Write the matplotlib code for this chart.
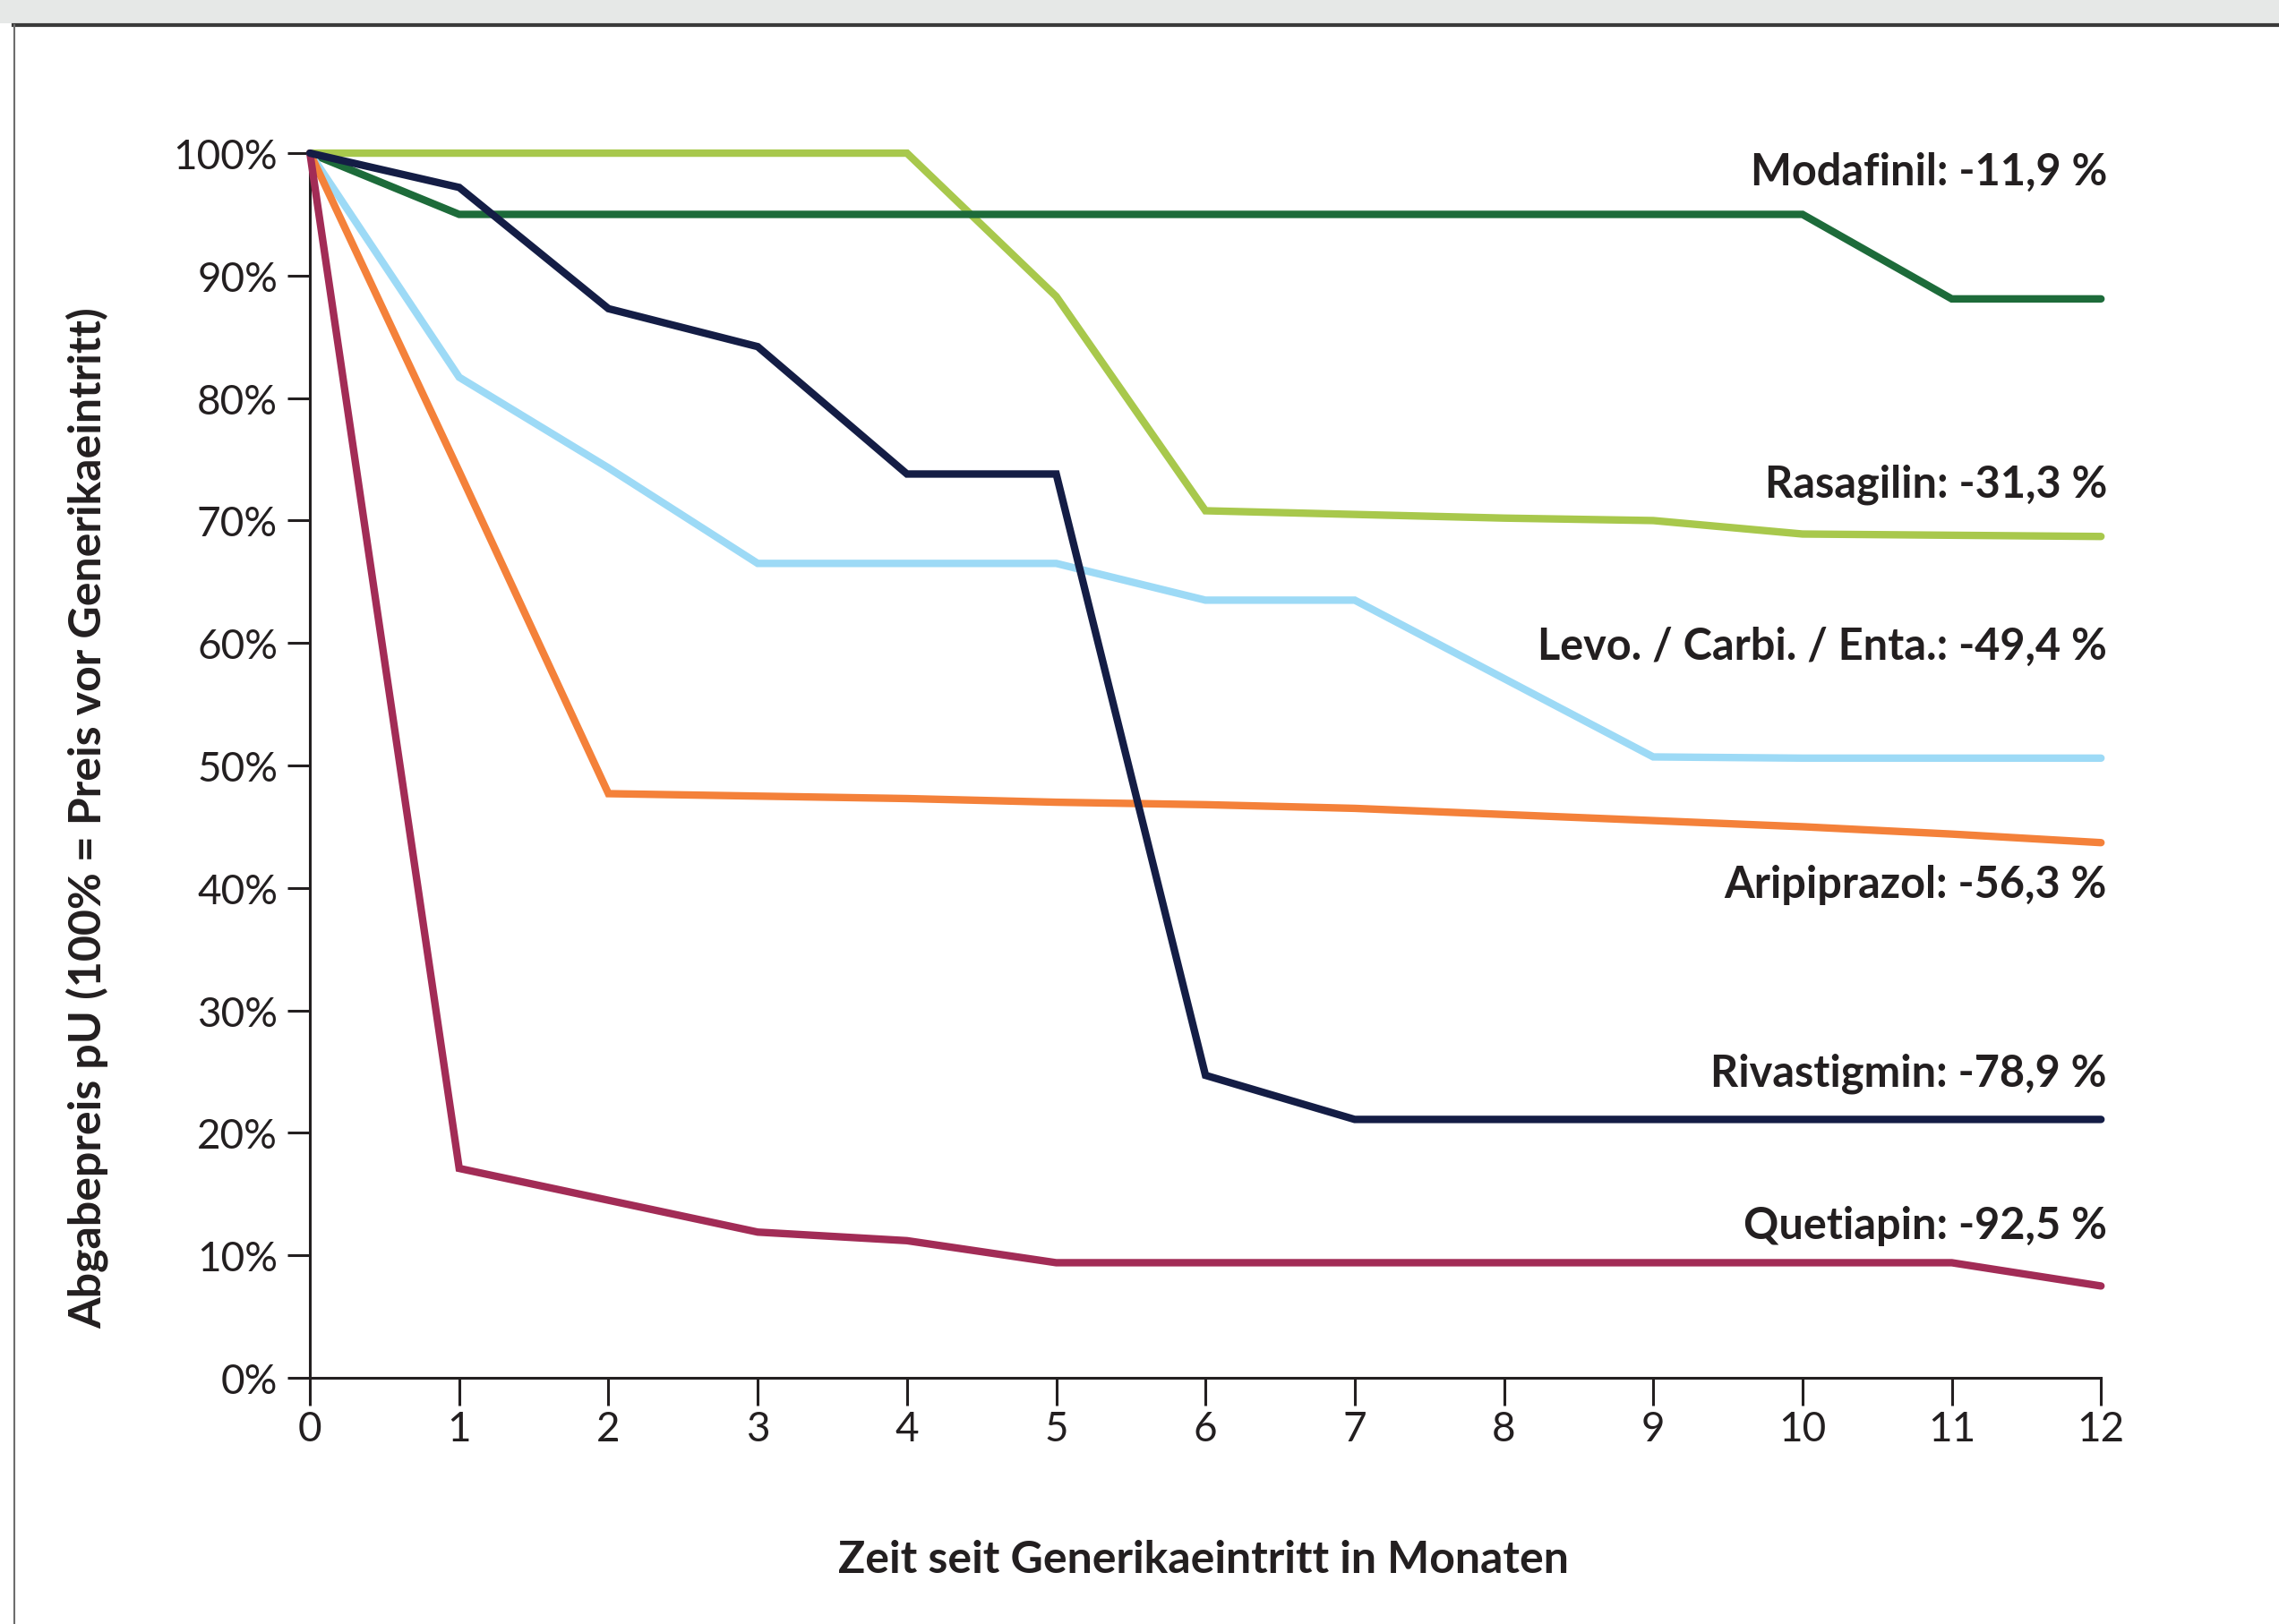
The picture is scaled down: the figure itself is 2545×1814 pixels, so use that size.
import matplotlib.pyplot as plt
from matplotlib.lines import Line2D
from matplotlib.patches import Rectangle

# Fonts
plt.rcParams['font.family'] = ['Lato', 'DejaVu Sans']

# Data: price (pU) relative to price before generic entry, per month
months = [0, 1, 2, 3, 4, 5, 6, 7, 8, 9, 10, 11, 12]

modafinil = [100, 95.0, 95.0, 95.0, 95.0, 95.0, 95.0, 95.0, 95.0, 95.0, 95.0, 88.1, 88.1]
rasagilin = [100, 100, 100, 100, 100, 88.3, 70.8, 70.5, 70.2, 70.0, 68.9, 68.8, 68.7]
levo = [100, 81.7, 74.3, 66.5, 66.5, 66.5, 63.5, 63.5, 57.1, 50.7, 50.6, 50.6, 50.6]
aripiprazol = [100, 74.0, 47.7, 47.5, 47.3, 47.0, 46.8, 46.5, 46.0, 45.5, 45.0, 44.4, 43.7]
rivastigmin = [100, 97.2, 87.3, 84.2, 73.8, 73.8, 24.7, 21.1, 21.1, 21.1, 21.1, 21.1, 21.1]
quetiapin = [100, 17.1, 14.5, 11.9, 11.2, 9.4, 9.4, 9.4, 9.4, 9.4, 9.4, 9.4, 7.5]

series = [modafinil, rasagilin, levo, aripiprazol, rivastigmin, quetiapin]
colors = ["#1d6b3a", "#a8c84c", "#9ddaf6", "#f4813a", "#141d45", "#a22c56"]

labels = ["Modafinil: -11,9 %", "Rasagilin: -31,3 %", "Levo. / Carbi. / Enta.: -49,4 %",
          "Aripiprazol: -56,3 %", "Rivastigmin: -78,9 %", "Quetiapin: -92,5 %"]
label_y = [98.5, 73.0, 59.8, 40.3, 24.9, 12.5]

yticks = [0, 10, 20, 30, 40, 50, 60, 70, 80, 90, 100]
ytick_labels = ["%d%%" % v for v in yticks]

TEXT = "#231f20"

fig = plt.figure(figsize=(25.45, 18.15), dpi=100)
ax = fig.add_axes([0.136, 0.1515, 0.7859, 0.7537])

# Frame of the figure: grey band at top, dark rule, thin left border
fig.patches.append(Rectangle((0, 1 - 27 / 1815), 1, 27 / 1815, transform=fig.transFigure,
                             facecolor="#e6e8e7", edgecolor="none"))
fig.lines.append(Line2D([0.006, 1], [1 - 29 / 1815, 1 - 29 / 1815], transform=fig.transFigure,
                        color="#3a3a3a", lw=3))
fig.lines.append(Line2D([16 / 2545, 16 / 2545], [0, 1 - 29 / 1815], transform=fig.transFigure,
                        color="#6d6d6d", lw=1.5))

# Plot the lines (rivastigmin drawn on top)
order = [1, 0, 2, 3, 5, 4]
for i in order:
    ax.plot(months, series[i], color=colors[i], lw=6, solid_capstyle="round",
            solid_joinstyle="miter", clip_on=False, zorder=3)

for txt, y in zip(labels, label_y):
    ax.text(12.04, y, txt, ha="right", va="center", fontsize=35, fontweight="bold",
            color=TEXT)

ax.set_xlim(0, 12)
ax.set_ylim(0, 100)
ax.set_xticks(months)
ax.set_yticks(yticks)
ax.set_yticklabels(ytick_labels)
ax.tick_params(axis="y", length=18, width=2.2, color=TEXT, labelsize=33, labelcolor=TEXT, pad=8)
ax.tick_params(axis="x", length=22, width=2.2, color=TEXT, labelsize=33, labelcolor=TEXT, pad=4)

for s in ["top", "right"]:
    ax.spines[s].set_visible(False)
for s in ["left", "bottom"]:
    ax.spines[s].set_linewidth(2.2)
    ax.spines[s].set_color(TEXT)

fig.text(0.528, 0.0402, "Zeit seit Generikaeintritt in Monaten", ha="center", va="center",
         fontsize=36, fontweight="bold", color=TEXT)
fig.text(0.0381, 0.4964, "Abgabepreis pU (100% = Preis vor Generikaeintritt)", ha="center",
         va="center", rotation=90, fontsize=36, fontweight="bold", color=TEXT)

fig.savefig("out.png", dpi=100, facecolor="white")
